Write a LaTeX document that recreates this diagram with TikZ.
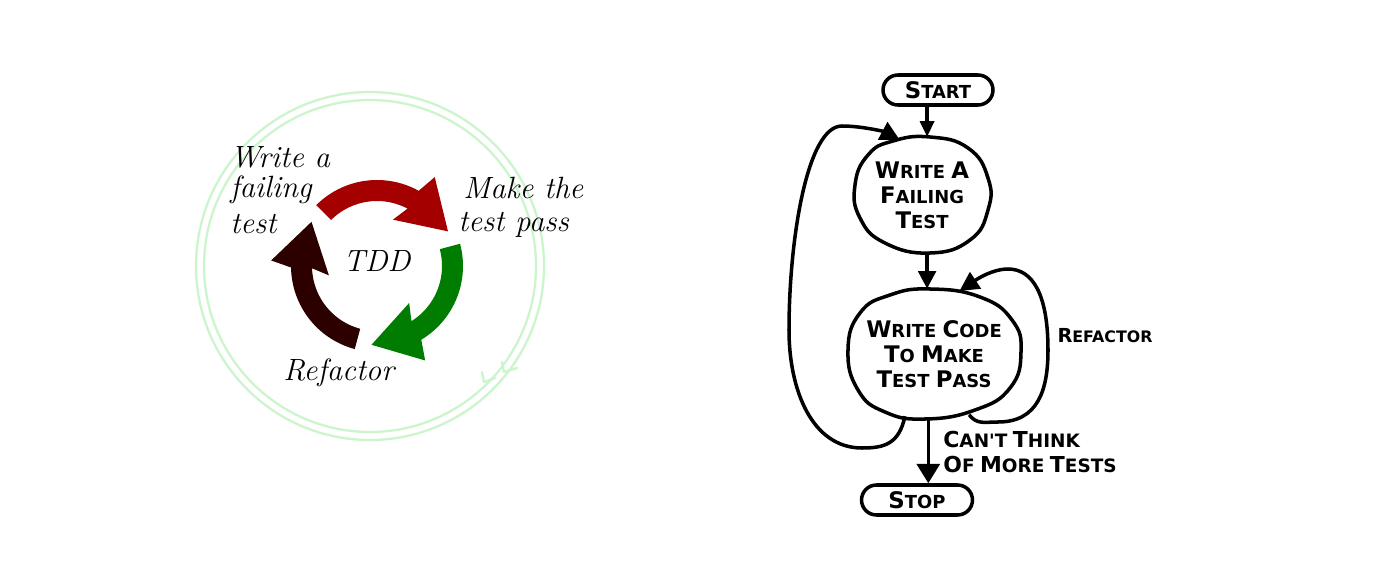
\documentclass[tikz,border=0pt]{standalone}
\usepackage{fontspec}
\newfontfamily\hand{DejaVu Sans}
\usetikzlibrary{arrows.meta,shapes.geometric}
\definecolor{tddred}{RGB}{165,0,0}
\definecolor{tddgreen}{RGB}{0,125,0}
\definecolor{tdddark}{RGB}{45,0,0}
\definecolor{ringgreen}{RGB}{205,245,205}
\newcommand\hcb[2]{{\fontsize{13}{14}\selectfont #1}{\fontsize{10.2}{14}\selectfont #2}}
\newcommand\hcs[2]{{\fontsize{11}{13}\selectfont #1}{\fontsize{9}{13}\selectfont #2}}
\newcommand\hcm[2]{{\fontsize{12.5}{13}\selectfont #1}{\fontsize{10.5}{13}\selectfont #2}}
\begin{document}
\begin{tikzpicture}[x=0.02cm,y=-0.02cm,
  script/.style={font=\fontsize{17.5}{20}\selectfont\itshape, anchor=base west, inner sep=0pt},
  ring/.style={draw=ringgreen, line width=1.3pt},
  term/.style={draw, line width=2pt, rounded corners=0.3cm, minimum width=2.2cm, minimum height=0.6cm, inner sep=0pt, font=\hand\bfseries},
  blobnode/.style={ellipse, inner sep=0pt, align=center, font=\hand\bfseries\fontsize{10.2}{14.3}\selectfont},
  blob/.style={line width=2pt},
  flow/.style={line width=2pt, -{Triangle[length=10pt,width=10pt]}},
  lab/.style={inner sep=0pt, font=\hand\bfseries\fontsize{9}{13}\selectfont}]
\fill[white] (0,0) rectangle (1374,588);
\useasboundingbox (0,0) rectangle (1374,588);

% ---------- left: TDD cycle ----------
\draw[ring] (370,266) circle[radius=174];
\draw[ring] (370,266) circle[radius=166];
\draw[ring, line cap=round, line join=round] (482,372) -- (484,382) -- (495,378);
\draw[ring, line cap=round, line join=round] (502,362) -- (504,372) -- (517,368);

\foreach \r/\c in {0/tddred,120/tddgreen,240/tdddark}{
  \pgfmathsetmacro\aa{-135+\r}
  \pgfmathsetmacro\ab{-61+\r}
  \pgfmathsetmacro\ac{-57+\r}
  \pgfmathsetmacro\ad{-26+\r}
  \pgfmathsetmacro\ae{-71+\r}
  \pgfmathsetmacro\af{-62+\r}
  \fill[\c, shift={(377,266)}]
    plot[domain=\aa:\ab, samples=30] ({86*cos(\x)},{86*sin(\x)})
    -- (\ac:106) -- (\ad:79) -- (\ae:49) -- (\af:65)
    -- plot[domain=\af:\aa, samples=30] ({65*cos(\x)},{65*sin(\x)}) -- cycle;
}

\node[script] (wf1) at (230,168) {Write a};
\node[script] (wf2) at (230,197) {failing};
\node[script] (wf3) at (230,234) {test};
\node[script] (mk1) at (463,198) {Make the};
\node[script] (mk2) at (458,232) {test pass};
\node[script] (tdd) at (343,272) {TDD};
\node[script] (rf) at (283,380) {Refactor};

% ---------- right: flowchart ----------
\node[term] (start) at (938,90) {\hcb{S}{TART}};
\node[blobnode, minimum width=2.7cm, minimum height=2.32cm] (w1) at (922,195)
  {\hcb{W}{RITE} \hcb{A}{}\\ \hcb{F}{AILING}\\ \hcb{T}{EST}};
\node[blobnode, minimum width=3.48cm, minimum height=2.6cm] (w2) at (934,354)
  {\hcb{W}{RITE} \hcb{C}{ODE}\\ \hcb{T}{O} \hcb{M}{AKE}\\ \hcb{T}{EST} \hcb{P}{ASS}};
\node[term, minimum width=2.22cm] (stop) at (917,500) {\hcb{S}{TOP}};

\draw[blob] plot[smooth cycle, tension=0.8] coordinates {(930,137) (968,148) (988,178) (988,210) (970,240) (930,253) (885,243) (860,218) (855,185) (868,155) (893,141)};
\draw[blob] plot[smooth cycle, tension=0.8] coordinates {(930,289) (980,297) (1012,320) (1021,352) (1010,388) (975,410) (925,419) (885,412) (858,390) (848,350) (860,313) (890,295)};

\node[lab] (refl) at (1105,336) {\hcs{R}{EFACTOR}};
\node[lab, align=left, anchor=north west] (cant) at (943,431)
  {\hcm{C}{AN'T} \hcm{T}{HINK}\\[1pt] \hcm{O}{F} \hcm{M}{ORE} \hcm{T}{ESTS}};

\coordinate (lb) at (862,448);
\coordinate (ll) at (789,330);
\coordinate (lt) at (842,126);
\coordinate (rb) at (998,422);
\coordinate (rr) at (1048,350);
\coordinate (rt) at (1008,269);

\draw[flow, -{Triangle[length=9pt,width=8pt]}] (start.south -| w1.85) -- (w1.85);
\draw[flow] (w1.-85) -- (w1.-85 |- w2.north);
\draw[flow, -{Triangle[length=11pt,width=13pt]}] (w2.-95) -- (w2.-95 |- stop.north);
\draw[flow, -{Triangle[length=11pt,width=11pt]}] (w2.-115) .. controls +(-6,28) and +(22,0) .. (lb)
  .. controls +(-50,0) and +(0,60) .. (ll)
  .. controls +(0,-90) and +(-35,0) .. (lt)
  .. controls +(20,0) and +(-15,-8) .. (w1.112);
\draw[flow, -{Triangle[length=11pt,width=11pt]}] (w2.-60) .. controls +(8,10) and +(-14,0) .. (rb)
  .. controls +(40,0) and +(0,40) .. (rr)
  .. controls +(0,-55) and +(25,0) .. (rt)
  .. controls +(-18,0) and +(12,-8) .. (w2.68);
\end{tikzpicture}
\end{document}
